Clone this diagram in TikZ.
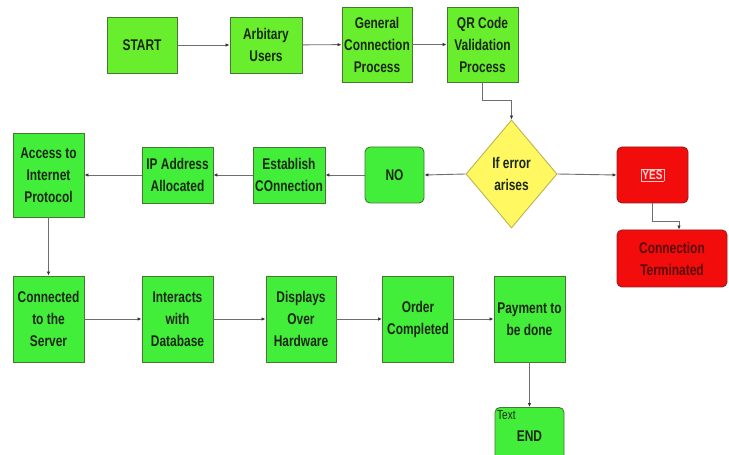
\documentclass[tikz,border=0pt]{standalone}
\usepackage{fontspec}
\setmainfont{Liberation Sans}[FakeStretch=0.77]
\usetikzlibrary{shapes.geometric,arrows.meta}
\definecolor{gtop}{RGB}{104,238,44}
\definecolor{gbox}{RGB}{66,238,58}
\definecolor{gborder}{RGB}{70,120,50}
\definecolor{rbox}{RGB}{242,12,12}
\definecolor{rborder}{RGB}{150,30,30}
\definecolor{rtxt}{RGB}{90,10,10}
\definecolor{yesframe}{RGB}{255,200,200}
\definecolor{yestxt}{RGB}{255,215,215}
\definecolor{ybox}{RGB}{255,248,96}
\definecolor{yborder}{RGB}{190,180,80}
\definecolor{txt}{RGB}{28,40,20}
\definecolor{lineclr}{RGB}{110,110,110}
\tikzset{
  box/.style={draw=gborder, line width=0.9bp, fill=gbox, align=center, inner sep=1bp,
    font=\fontsize{15.5bp}{22bp}\selectfont\bfseries, text=txt},
  topbox/.style={box, fill=gtop},
  rbox/.style={box, fill=rbox, draw=rborder, rounded corners=5bp, text=rtxt},
  arr/.style={draw=lineclr, line width=0.9bp, -{Latex[length=4bp,width=3.5bp,color=black!80]}}
}
\begin{document}
\begin{tikzpicture}[x=1bp,y=-1bp]
\useasboundingbox[fill=white] (0,0) rectangle (729,455);
\begin{scope}
\clip (0,0) rectangle (729,455);
% top row
\node[topbox, minimum width=70bp, minimum height=56bp] (start) at (142,45) {START};
\node[topbox, minimum width=72bp, minimum height=56bp] (users) at (266,45) {Arbitary\\Users};
\node[topbox, minimum width=70bp, minimum height=75bp] (general) at (377,44.5) {General\\Connection\\Process};
\node[topbox, minimum width=71bp, minimum height=75bp] (qr) at (482.5,44.5) {QR Code\\Validation\\Process};
% decision row
\node[box, shape=diamond, fill=ybox, draw=yborder, minimum width=91bp, minimum height=108bp, inner sep=0pt] (dia) at (511.5,174) {If error\\arises};
\node[rbox, minimum width=71bp, minimum height=56bp] (yes) at (652.5,175)
  {\setlength{\fboxsep}{1bp}\setlength{\fboxrule}{0.5bp}\fcolorbox{yesframe}{rbox}{\fontsize{13bp}{15bp}\selectfont\color{yestxt}YES}};
\node[rbox, minimum width=110bp, minimum height=57bp] (term) at (672,258.5) {Connection\\Terminated};
\node[box, rounded corners=5bp, minimum width=59bp, minimum height=56bp] (no) at (394.5,175) {NO};
\node[box, minimum width=72bp, minimum height=56bp] (estab) at (289,175) {Establish\\COnnection};
\node[box, minimum width=71bp, minimum height=56bp] (ip) at (177.5,175) {IP Address\\Allocated};
\node[box, minimum width=71bp, minimum height=84bp] (access) at (48.5,175) {Access to\\Internet\\Protocol};
% bottom row
\node[box, minimum width=71bp, minimum height=86bp] (conn) at (48.5,319) {Connected\\to the\\Server};
\node[box, minimum width=71bp, minimum height=86bp] (inter) at (177.5,319) {Interacts\\with\\Database};
\node[box, minimum width=70bp, minimum height=86bp] (disp) at (301,319) {Displays\\Over\\Hardware};
\node[box, minimum width=71bp, minimum height=86bp] (order) at (418,319) {Order\\Completed};
\node[box, minimum width=71bp, minimum height=86bp] (pay) at (529.5,319) {Payment to\\be done};
\node[box, rounded corners=5bp, minimum width=69bp, minimum height=58bp, anchor=north] (endn) at (529.5,407) {END};
\node[font=\fontsize{13bp}{14bp}\selectfont, text=txt, anchor=north west, inner sep=0pt] (endlbl) at (497,410) {Text};
% connectors
\draw[arr] (start) -- (users);
\draw[arr] (users) -- (general);
\draw[arr] (general) -- (qr);
\draw[arr] (qr.south) -- ++(0,18) -| (dia.north);
\draw[arr] (dia.east) -- (yes.west);
\draw[arr] (dia.west) -- (no.east);
\draw[arr] (no) -- (estab);
\draw[arr] (estab) -- (ip);
\draw[arr] (ip) -- (access);
\draw[arr] (yes.south) -- ++(0,18) -| ([xshift=7bp]term.north);
\draw[arr] (access) -- (conn);
\draw[arr] (conn) -- (inter);
\draw[arr] (inter) -- (disp);
\draw[arr] (disp) -- (order);
\draw[arr] (order) -- (pay);
\draw[arr] (pay) -- (endn);
\end{scope}
\end{tikzpicture}
\end{document}
